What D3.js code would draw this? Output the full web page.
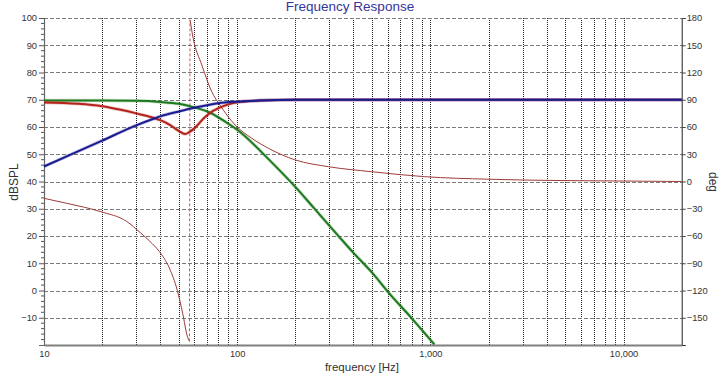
<!DOCTYPE html>
<html><head><meta charset="utf-8">
<script src="https://cdn.jsdelivr.net/npm/d3@7"></script>
<style>
html,body{margin:0;padding:0;background:#fff;}
svg{display:block;font-family:"Liberation Sans",Arial,sans-serif;}
</style></head>
<body>
<svg id="chart" width="720" height="381"></svg>
<script>
// ---------- data ----------
const xTicks = [10, 100, 1000, 10000];
const yLeftTicks = [100, 90, 80, 70, 60, 50, 40, 30, 20, 10, 0, -10];
const yRightTicks = [180, 150, 120, 90, 60, 30, 0, -30, -60, -90, -120, -150];

// blue (dBSPL)
const blueFreq = [10, 14.2, 20, 30, 37.5, 40, 50, 60, 70, 80, 100, 130, 200, 500, 1000, 20000];
const blueDb   = [45.5, 50.3, 55, 60.6, 63.2, 63.9, 65.7, 67.1, 68.0, 68.7, 69.3, 69.7, 70, 70, 70, 70];

// red thick (dBSPL)
const redFreq = [10, 15, 20, 25, 30, 37.5, 40, 45, 50, 53.7, 57, 60, 68, 75, 80, 90, 100, 130, 200, 20000];
const redDb   = [69.0, 68.5, 67.6, 66.3, 65.0, 63.2, 62.5, 60.7, 58.5, 57.4, 58.3, 59.5, 63.6, 65.9, 66.9, 68.3, 69.1, 69.7, 70, 70];

// green (dBSPL)
const greenFreq = [10, 20, 30, 40, 50, 60, 70, 75, 80, 90, 100, 150, 200, 250, 300, 348, 400, 507, 600, 801, 1050];
const greenDb   = [69.7, 69.7, 69.6, 69.2, 68.5, 67.2, 65.7, 64.7, 63.5, 61.2, 59.0, 47.2, 38.0, 30.2, 23.8, 18.6, 13.8, 6.0, -0.3, -10.2, -19.8];

// thin red phase (deg), low branch and high branch
const phaseLowFreq = [10, 13.1, 19.5, 26.8, 31.4, 35.4, 39.5, 44.5, 49, 52.2, 55.3, 56.6];
const phaseLowDeg  = [-18.5, -24, -33, -44, -56, -66, -77, -95, -120, -145, -171, -176];
const phaseHighFreq = [57, 59.2, 65.6, 73.8, 81.5, 97.6, 119, 145, 200, 297, 495, 935, 2000, 5000, 10000, 20000];
const phaseHighDeg  = [178, 157.6, 128.3, 98.9, 84, 62.2, 47.6, 36.6, 23.7, 16.3, 10.8, 5.3, 2.5, 1, 0.5, 0];

// ---------- layout ----------
const svg = d3.select("#chart");
const L = 44, R = 681.7, T = 18, B = 345;
const x = d3.scaleLog().domain([10, 20000]).range([L, R]);
const yL = d3.scaleLinear().domain([-20, 100]).range([B, T]);
const yR = d3.scaleLinear().domain([-180, 180]).range([B, T]);

// vertical grid (every 1..9 x decade)
const vGrid = [];
for (let d = 10; d <= 10000; d *= 10) for (let m = 1; m <= 9; m++) { const v = d * m; if (v > 10 && v < 20000) vGrid.push(v); }
svg.append("g").selectAll("line").data(vGrid).join("line")
  .attr("x1", d => Math.round(x(d)) + 0.5).attr("x2", d => Math.round(x(d)) + 0.5)
  .attr("y1", T).attr("y2", B)
  .attr("stroke", "#222").attr("stroke-width", 1).attr("stroke-dasharray", "1,1");

// horizontal grid
const hGrid = d3.range(-10, 101, 10);
svg.append("g").selectAll("line").data(hGrid).join("line")
  .attr("x1", L).attr("x2", R)
  .attr("y1", d => Math.round(yL(d)) + 0.5).attr("y2", d => Math.round(yL(d)) + 0.5)
  .attr("stroke", "#7a7a7a").attr("stroke-width", 1).attr("stroke-dasharray", "4,2");

// axes
const axL = svg.append("g").attr("transform", `translate(${L},0)`)
  .call(d3.axisLeft(yL).tickValues(yLeftTicks).tickSize(5).tickPadding(2).tickFormat(d3.format("d")));
const minorL = d3.range(-20, 101, 2).filter(v => v % 10 !== 0);
svg.append("g").selectAll("line").data(minorL).join("line")
  .attr("x1", L - 3).attr("x2", L).attr("y1", d => yL(d)).attr("y2", d => yL(d))
  .attr("stroke", "#555");
const axR = svg.append("g").attr("transform", `translate(${R},0)`)
  .call(d3.axisRight(yR).tickValues(yRightTicks).tickSize(4).tickPadding(1).tickFormat(d3.format("d")));
const axB = svg.append("g").attr("transform", `translate(0,${B})`)
  .call(d3.axisBottom(x).tickValues(xTicks).tickSize(0).tickPadding(4).tickFormat(d3.format(",")));

[axL, axR, axB].forEach(a => {
  a.selectAll("text").attr("font-size", "9.3px").attr("fill", "#333").attr("font-family", "'Liberation Sans',Arial,sans-serif");
});
axL.select(".domain").attr("stroke", "#666").attr("stroke-width", 1.2);
axL.selectAll(".tick line").attr("stroke", "#555");
axR.select(".domain").attr("stroke", "#222");
axR.selectAll(".tick line").attr("stroke", "#444");
axB.select(".domain").attr("stroke", "#808080").attr("stroke-width", 2);
axB.selectAll("text").attr("dy", "0.85em");

// lines
const lineL = d3.line().x(d => x(d[0])).y(d => yL(d[1])).curve(d3.curveMonotoneX);
const lineR = d3.line().x(d => x(d[0])).y(d => yR(d[1])).curve(d3.curveMonotoneX);
const zip = (a, b) => a.map((v, i) => [v, b[i]]);

// thin phase
svg.append("path").attr("d", lineR(zip(phaseLowFreq, phaseLowDeg)))
  .attr("fill", "none").attr("stroke", "#9e3b3b").attr("stroke-width", 1);
svg.append("path").attr("d", lineR(zip(phaseHighFreq, phaseHighDeg)))
  .attr("fill", "none").attr("stroke", "#9e3b3b").attr("stroke-width", 1);
// wrap jump, dashed
svg.append("line")
  .attr("x1", x(phaseLowFreq[phaseLowFreq.length - 1])).attr("y1", yR(phaseLowDeg[phaseLowDeg.length - 1]))
  .attr("x2", x(phaseHighFreq[0])).attr("y2", yR(phaseHighDeg[0]))
  .attr("stroke", "#c05a5a").attr("stroke-width", 1).attr("stroke-dasharray", "3,2");

const thick = (f, v, c) => {
  svg.append("path").attr("d", lineL(zip(f, v))).attr("fill", "none")
    .attr("stroke", c).attr("stroke-opacity", 0.25).attr("stroke-width", 3.5);
  svg.append("path").attr("d", lineL(zip(f, v))).attr("fill", "none")
    .attr("stroke", c).attr("stroke-width", 2);
};
thick(greenFreq, greenDb, "#1e7a1e");
thick(redFreq, redDb, "#b3231c");
thick(blueFreq, blueDb, "#1c1c92");

// titles
svg.append("text").attr("x", 350).attr("y", 11).attr("text-anchor", "middle")
  .attr("font-size", "13.5px").attr("fill", "#34349a").text("Frequency Response");
svg.append("text").attr("x", 362).attr("y", 371).attr("text-anchor", "middle")
  .attr("font-size", "11.5px").attr("fill", "#333").text("frequency [Hz]");
svg.append("text").attr("transform", "translate(18,182) rotate(-90)").attr("text-anchor", "middle")
  .attr("font-size", "12px").attr("fill", "#333").text("dBSPL");
svg.append("text").attr("transform", "translate(709,182) rotate(90)").attr("text-anchor", "middle")
  .attr("font-size", "12px").attr("fill", "#333").text("deg");
</script>
</body></html>
